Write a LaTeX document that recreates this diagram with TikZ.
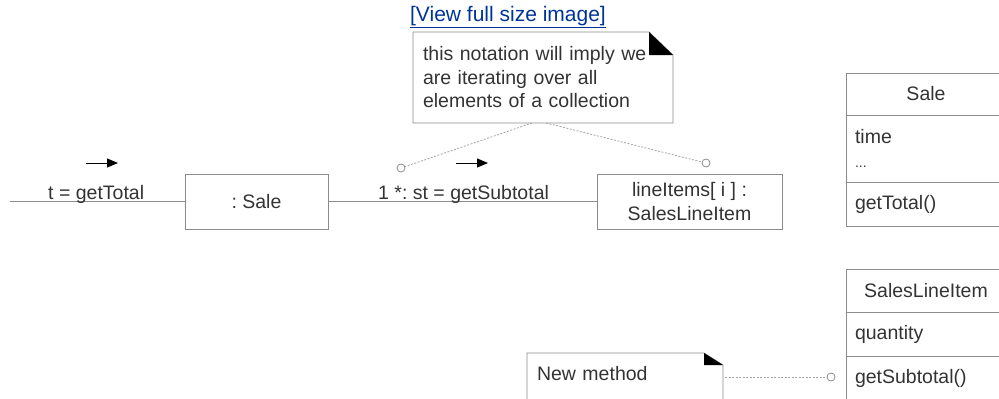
\documentclass[tikz,border=0pt]{standalone}
\usepackage{fontspec}
\setmainfont{Liberation Sans}
\usepackage{tikz}
\usetikzlibrary{arrows.meta, positioning}
\definecolor{inkgray}{RGB}{51,51,51}
\definecolor{linegray}{RGB}{140,140,140}
\definecolor{linkblue}{RGB}{0,51,153}
\frenchspacing

\begin{document}
\begin{tikzpicture}[
    x = 1pt, y = -1pt,
    every node/.style = {font=\fontsize{19.5}{23.5}\selectfont, text=inkgray},
    objbox/.style     = {rectangle, draw=linegray, line width=1pt, align=center,
                         inner sep=0pt, outer sep=0pt},
    cell/.style       = {rectangle, draw=linegray, line width=1pt, minimum width=160pt,
                         text width=142pt, inner sep=0pt, outer sep=0pt},
    notetext/.style   = {align=left, inner sep=0pt, outer sep=0pt},
    notebox/.style    = {draw=linegray, line width=0.8pt},
    dogear/.style     = {fill=black},
    msg/.style        = {draw=linegray, line width=1pt},
    dir/.style        = {-{Triangle[length=11pt, width=9pt]}, line width=1pt, black},
    anchorlink/.style = {draw=linegray!80, line width=0.8pt, dash pattern=on 2pt off 1.5pt},
    pin/.style        = {circle, draw=linegray, line width=0.8pt, fill=white,
                         minimum size=8pt, inner sep=0pt},
    msglabel/.style   = {inner sep=0pt, anchor=base west},
]
\clip (0,0) rectangle (999,399);

\node[text=linkblue, font=\fontsize{21}{24}\selectfont] (fullView) at (508,17)
    {\underline{[View full size image]}};

% note on the iteration
\node[notetext, minimum width=260pt, minimum height=91pt, text width=240pt]
    (iterNote) at (543,77.5)
    {this notation will imply we\\are iterating over all\\elements of a collection};
\draw[notebox] (iterNote.north west) -- ([xshift=-24pt]iterNote.north east)
    -- ([yshift=-23pt]iterNote.north east) -- (iterNote.south east)
    -- (iterNote.south west) -- cycle;
\fill[dogear] ([xshift=-24pt]iterNote.north east) -- ([yshift=-23pt]iterNote.north east)
    -- ([xshift=-24pt, yshift=-23pt]iterNote.north east) -- cycle;

% collaboration
\coordinate (caller) at (10,201.5);
\node[objbox, minimum width=143pt, minimum height=55pt] (saleObj) at (256.5,201.5) {: Sale};
\node[objbox, minimum width=185pt, minimum height=55pt] (itemObj) at (689.5,201.5)
    {lineItems[ i ] :\\SalesLineItem};

\draw[msg] (caller) -- (saleObj.west);
\draw[msg] (saleObj) -- (itemObj);

\node[msglabel] (totalMsg) at (48,199) {t = getTotal};
\node[msglabel] (subMsg) at (378,199) {1 *: st = getSubtotal};

\coordinate (dirA0) at (86,163);
\coordinate (dirA1) at (118,163);
\coordinate (dirB0) at (456,163);
\coordinate (dirB1) at (488,163);
\draw[dir] (dirA0) -- (dirA1);
\draw[dir] (dirB0) -- (dirB1);

\node[pin] (pinA) at (401,168) {};
\node[pin] (pinB) at (706,163) {};
\draw[anchorlink] ([xshift=-11pt]iterNote.south) -- (pinA);
\draw[anchorlink] ([xshift=3pt]iterNote.south) -- (pinB);

% class Sale
\node[cell, minimum height=42pt, align=center] (saleName) at (926,94) {Sale};
\node[cell, minimum height=67pt, align=left, below=0pt of saleName] (saleAttr)
    {time\\{\fontsize{14}{14}\selectfont ...}};
\node[cell, minimum height=44pt, align=left, below=0pt of saleAttr] (saleOps) {getTotal()};

% class SalesLineItem
\node[cell, minimum height=43pt, align=center] (sliName) at (926,290.5) {SalesLineItem};
\node[cell, minimum height=44pt, align=left, below=0pt of sliName] (sliAttr) {quantity};
\node[cell, minimum height=44pt, align=left, below=0pt of sliAttr] (sliOps) {getSubtotal()};

% note on the new method
\node[notetext, minimum width=196pt, minimum height=42pt, text width=176pt]
    (newNote) at (625,374) {New method};
\draw[notebox] ([yshift=-30pt]newNote.south west) -- (newNote.north west)
    -- ([xshift=-19pt]newNote.north east) -- ([yshift=-12pt]newNote.north east)
    -- ([yshift=-30pt]newNote.south east);
\fill[dogear] ([xshift=-19pt]newNote.north east) -- ([yshift=-12pt]newNote.north east)
    -- ([xshift=-19pt, yshift=-12pt]newNote.north east) -- cycle;

\node[pin] (pinC) at (831,377) {};
\coordinate (noteEnd) at ([xshift=2pt]newNote.east |- pinC);
\draw[anchorlink] (noteEnd) -- (pinC);
\end{tikzpicture}
\end{document}
